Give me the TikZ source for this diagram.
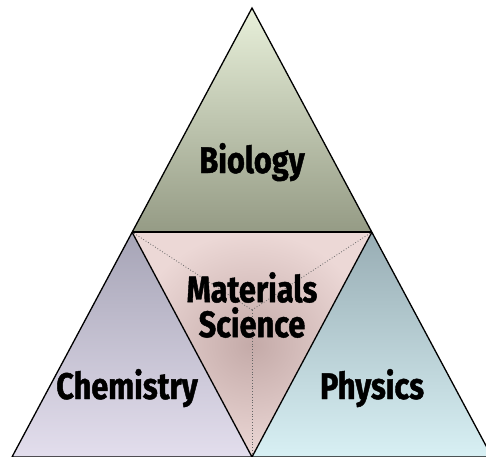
\documentclass[tikz,border=0pt]{standalone}
\usepackage{fontspec}
\setmainfont{Fira Sans}
\newfontfamily\fieldfont[FakeStretch=0.83, FakeBold=1.2]{Fira Sans}
\usetikzlibrary{%
  positioning,%
  calc%
}
\definecolor{bioTop}{HTML}{E8F0DA}
\definecolor{bioBot}{HTML}{959B85}
\definecolor{chemTop}{HTML}{A6A4B6}
\definecolor{chemBot}{HTML}{E3DEED}
\definecolor{physTop}{HTML}{98ADB4}
\definecolor{physBot}{HTML}{D8F0F4}
\definecolor{msLight}{HTML}{ECD8D6}
\definecolor{msDark}{HTML}{C4AAA8}

\begin{document}
\begin{tikzpicture}[
  x=1pt, y=1pt,
  line width=1.3pt,
  field/.style={font=\fieldfont\fontsize{37}{35}\selectfont\bfseries, inner sep=0pt},
  seam/.style={dotted, gray!80!black, line width=0.8pt},
]
\useasboundingbox (0,0) rectangle (486,456);

% corners of the big triangle and of the middle one
\coordinate (top) at (252,448);
\coordinate (left) at (12,-1);
\coordinate (right) at (492,-1);
\coordinate (ml) at (132,224);
\coordinate (mr) at (372,224);
\coordinate (mb) at (252,-1);
\coordinate (mid) at (252,146);

\begin{scope}
\clip (0,0) rectangle (486,456);
\shade[top color=bioTop, bottom color=bioBot] (top) -- (mr) -- (ml) -- cycle;
\shade[top color=chemTop, bottom color=chemBot] (ml) -- (mb) -- (left) -- cycle;
\shade[top color=physTop, bottom color=physBot] (mr) -- (right) -- (mb) -- cycle;
\shade[inner color=msDark, outer color=msLight] (ml) -- (mr) -- (mb) -- cycle;

\foreach \v in {ml,mr,mb} {
  \draw[seam] (mid) -- (\v);
}

\draw (top) -- (right) -- (left) -- cycle;
\draw (ml) -- (mb) -- (mr);
\draw[line width=2.2pt] (ml) -- (mr);
\end{scope}

\node[field, anchor=base] (bio) at (252,283) {Biology};
\node[field, align=center] (ms) at (252,151) {Materials\\Science};
\node[field, anchor=base] (chem) at (127,57) {Chemistry};
\node[field, anchor=base] (phys) at (372,57) {Physics};

\end{tikzpicture}
\end{document}
